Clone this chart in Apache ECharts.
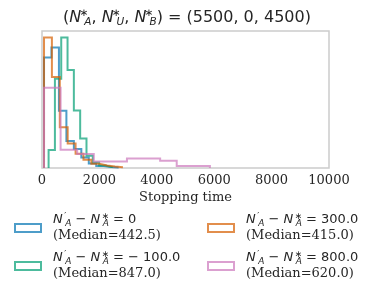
<!DOCTYPE html>
<html>
<head>
<meta charset="utf-8">
<script src="https://cdn.jsdelivr.net/npm/echarts@6/dist/echarts.min.js"></script>
<style>html,body{margin:0;padding:0;background:#fff;}#c{width:374px;height:296px;}</style>
</head>
<body>
<div id="c"></div>
<script>
// ---- data ----
const deltas = ['0', '\u2212 100.0', '300.0', '800.0'];
const medians = ['442.5', '847.0', '415.0', '620.0'];
const xTicks = [0, 2000, 4000, 6000, 8000, 10000];

const edgesD0 = [70, 330, 590, 850, 1110, 1370, 1630, 1890, 2150, 2410, 2670];
const countsD0 = [110, 120, 57, 27, 19, 10.5, 4.5, 2, 1, 0.5];

const edgesDm100 = [230, 450, 670, 890, 1110, 1330, 1550, 1770, 1990, 2210, 2430];
const countsDm100 = [18, 89, 130, 97.6, 57.3, 29.3, 12.3, 5.6, 2.5, 1];

const edgesD300 = [70, 345, 620, 895, 1170, 1445, 1720, 1995, 2270, 2545, 2820];
const countsD300 = [130, 90.6, 40.6, 24.3, 14.3, 8.3, 4.3, 2.5, 1.5, 0.7];

const edgesD800 = [70, 648, 1226, 1804, 2382, 2960, 3538, 4116, 4694, 5272, 5850];
const countsD800 = [80, 18.3, 14, 6.5, 6.5, 9.5, 9.5, 7.3, 2, 2];

const colors = ['rgba(1,115,178,0.7)', 'rgba(2,158,115,0.7)', 'rgba(213,94,0,0.7)', 'rgba(204,120,188,0.7)'];
const edgesList = [edgesD0, edgesDm100, edgesD300, edgesD800];
const countsList = [countsD0, countsDm100, countsD300, countsD800];
const names = ['d0', 'dm100', 'd300', 'd800'];

function stepOutline(edges, counts) {
  const pts = [[edges[0], 0]];
  for (let i = 0; i < counts.length; i++) {
    pts.push([edges[i], counts[i]]);
    pts.push([edges[i + 1], counts[i]]);
  }
  pts.push([edges[edges.length - 1], 0]);
  return pts;
}

const maxCount = Math.max(...countsList.flat());
const dark = '#262626';
function mk(size, lh, extra) {
  return Object.assign({ fontFamily: 'DejaVu Sans', fontWeight: 'normal', fontSize: size, color: dark, lineHeight: lh }, extra || {});
}
const mathRich = {
  m: mk(13, 16),
  it: mk(13, 16, { fontStyle: 'italic' }),
  g: mk(13, 16, { width: 1.5 }),
  sup: mk(9, 8, { verticalAlign: 'top', width: 1 }),
  sub: mk(9, 7, { fontStyle: 'italic', verticalAlign: 'bottom' }),
  s: { fontFamily: 'DejaVu Serif', fontWeight: 'normal', fontSize: 13, color: dark, lineHeight: 16 }
};

function legendLabel(name) {
  const i = names.indexOf(name);
  return '{it|N}{g| }{sup|\u2032}{sub|A}{m| \u2212 }{it|N}{g| }{sup|\u2217}{sub|A}{m| = ' + deltas[i] + '}\n{s|(Median=' + medians[i] + ')}';
}

function legendItem(i) {
  return { name: names[i], itemStyle: { color: '#ffffff', borderColor: colors[i], borderWidth: 2 } };
}

const titleText = '{m|(}{it|N}{g| }{sup|\u2217}{sub|A}{m|, }{it|N}{g| }{sup|\u2217}{sub|U}{m|, }{it|N}{g| }{sup|\u2217}{sub|B}{m|) = (5500, 0, 4500)}';

const chart = echarts.init(document.getElementById('c'), null, { renderer: 'canvas' });
const legendCommon = {
  orient: 'vertical', icon: 'rect', itemWidth: 26, itemHeight: 8, itemGap: 7.5, padding: 0,
  formatter: legendLabel, selectedMode: false,
  textStyle: { padding: [0, 0, 0, 7], rich: mathRich }
};
chart.setOption({
  animation: false,
  backgroundColor: '#ffffff',
  title: {
    text: titleText, left: 'center', top: 8, padding: 0,
    textStyle: {
      fontWeight: 'normal',
      rich: {
        m: mk(16, 20),
        it: mk(16, 20, { fontStyle: 'italic' }),
        g: mk(16, 20, { width: 2 }),
        sup: mk(10.5, 10, { verticalAlign: 'top', width: 1 }),
        sub: mk(10.5, 9, { fontStyle: 'italic', verticalAlign: 'bottom' })
      }
    }
  },
  grid: { left: 42, right: 45, top: 31, bottom: 128, show: true, borderColor: '#cccccc', borderWidth: 1.5, backgroundColor: 'transparent' },
  xAxis: {
    type: 'value', min: xTicks[0], max: xTicks[xTicks.length - 1], interval: 2000,
    axisLine: { show: false }, axisTick: { show: false }, splitLine: { show: false },
    axisLabel: { fontFamily: 'DejaVu Serif', fontSize: 13, color: dark, margin: 6, formatter: (v) => String(v) },
    name: 'Stopping time', nameLocation: 'middle', nameGap: 23,
    nameTextStyle: { fontFamily: 'DejaVu Serif', fontSize: 13, color: dark }
  },
  yAxis: {
    type: 'value', min: 0, max: maxCount * 1.05,
    axisLine: { show: false }, axisTick: { show: false }, splitLine: { show: false }, axisLabel: { show: false }
  },
  legend: [
    Object.assign({ left: 14, top: 212, data: [legendItem(0), legendItem(1)] }, legendCommon),
    Object.assign({ left: 207, top: 212, data: [legendItem(2), legendItem(3)] }, legendCommon)
  ],
  series: names.map((n, i) => ({
    name: n, type: 'line', symbol: 'none', showSymbol: false, silent: true,
    data: stepOutline(edgesList[i], countsList[i]),
    lineStyle: { color: colors[i], width: 2, join: 'miter' },
    itemStyle: { color: colors[i] },
    clip: true
  }))
});
</script>
</body>
</html>
